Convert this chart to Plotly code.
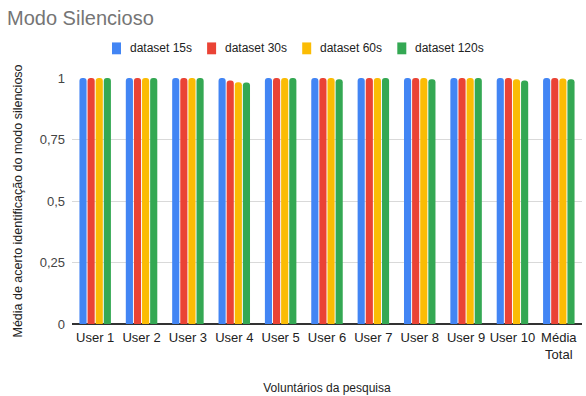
import plotly.graph_objects as go

categories = ["User 1", "User 2", "User 3", "User 4", "User 5", "User 6",
              "User 7", "User 8", "User 9", "User 10", "Média<br>Total"]
series_names = ["dataset 15s", "dataset 30s", "dataset 60s", "dataset 120s"]
ds_15s = [1, 1, 1, 1, 1, 1, 1, 1, 1, 1, 1]
ds_30s = [1, 1, 1, 0.99, 1, 1, 1, 1, 1, 1, 1]
ds_60s = [1, 1, 1, 0.983, 1, 1, 1, 1, 1, 0.995, 0.998]
ds_120s = [1, 1, 1, 0.982, 1, 0.995, 1, 0.995, 1, 0.99, 0.995]
colors = ["#4285F4", "#EA4335", "#FBBC04", "#34A853"]
y_ticks = [0, 0.25, 0.5, 0.75, 1]

W, H = 586, 396
M_L, M_R, M_T, M_B = 72, 4, 78, 69
plot_w = W - M_L - M_R
plot_h = H - M_T - M_B

fig = go.Figure()
for name, vals, col in zip(series_names, [ds_15s, ds_30s, ds_60s, ds_120s], colors):
    fig.add_trace(go.Bar(
        x=categories, y=vals, name=name, showlegend=False,
        marker=dict(color=col, line=dict(width=0), cornerradius=3),
    ))

# Compact horizontal legend: small swatch followed by its label
def px_x(px):
    return (px - M_L) / plot_w

def px_y(py):
    return (H - M_B - py) / plot_h

legend_y = 48
cursor = 112
for name, col in zip(series_names, colors):
    fig.add_shape(type="rect", xref="paper", yref="paper",
                  x0=px_x(cursor), x1=px_x(cursor + 9),
                  y0=px_y(legend_y + 6), y1=px_y(legend_y - 6),
                  fillcolor=col, line=dict(width=0))
    fig.add_annotation(text=name, xref="paper", yref="paper",
                       x=px_x(cursor + 16), y=px_y(legend_y),
                       xanchor="left", yanchor="middle", showarrow=False,
                       font=dict(size=12, color="#222222"))
    cursor += 16 + 6.1 * len(name) + 12

fig.update_layout(
    width=W, height=H,
    margin=dict(l=M_L, r=M_R, t=M_T, b=M_B),
    paper_bgcolor="white", plot_bgcolor="white",
    separators=",.",
    font=dict(family="Liberation Sans, Arial, sans-serif", size=13, color="#222222"),
    title=dict(text="Modo Silencioso", x=0.012, xanchor="left", y=0.955, yanchor="middle",
               font=dict(size=20, color="#757575")),
    barmode="group", bargap=0.3, bargroupgap=0.12,
    showlegend=False,
    xaxis=dict(
        title=dict(text="Voluntários da pesquisa", font=dict(size=12, color="#222222"), standoff=22),
        tickfont=dict(size=13, color="#222222"), showgrid=False, ticks="",
        showline=False, fixedrange=True, ticklabelstandoff=4,
    ),
    yaxis=dict(
        title=dict(text="Média de acerto identificação do modo silencioso",
                   font=dict(size=12.5, color="#222222"), standoff=14),
        range=[0, 1], tickvals=y_ticks, ticktext=["0", "0,25", "0,5", "0,75", "1"],
        tickfont=dict(size=13, color="#444444"),
        showgrid=True, gridcolor="#D9D9D9", gridwidth=1,
        zeroline=True, zerolinecolor="#333333", zerolinewidth=1.5,
        ticks="", ticklabelstandoff=6,
    ),
)

fig.write_html("out.html")
